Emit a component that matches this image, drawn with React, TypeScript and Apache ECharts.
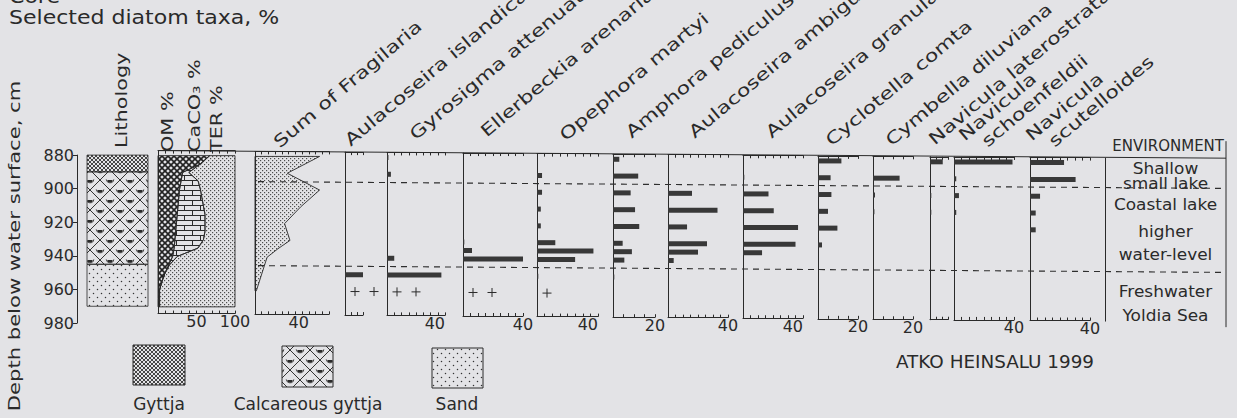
import React, { useEffect, useRef } from 'react';
import * as echarts from 'echarts';

// ---------------- data ----------------
const titleLines = ['Core', 'Selected diatom taxa, %'];
const depthAxisTitle = 'Depth below water surface, cm';
const credit = 'ATKO HEINSALU 1999';

const lithologyNames = ['Gyttja', 'Calcareous gyttja', 'Sand'];
const lithologyTop = [880, 890, 945];
const lithologyBase = [890, 945, 970];

const geoLabels = ['OM %', 'CaCO\u2083 %', 'TER %'];
const geoDepths = [880, 885, 890, 895, 900, 905, 910, 915, 920, 925, 930, 935, 940, 945, 950, 955, 960, 965, 970];
const omPct = [67, 55, 32, 30, 28, 27, 26, 25, 24, 23, 22, 21, 19, 14, 9, 5, 2, 2, 2];
const caco3Pct = [0, 0, 8, 22, 27, 30, 33, 36, 37, 38, 37, 31, 6, 1, 0, 0, 0, 0, 0];
const terPct = [33, 45, 60, 48, 45, 43, 41, 39, 39, 39, 41, 48, 75, 85, 91, 95, 98, 98, 98];

const taxaNames = [
  'Sum of Fragilaria', 'Aulacoseira islandica', 'Gyrosigma attenuatum', 'Ellerbeckia arenaria',
  'Opephora martyi', 'Amphora pediculus', 'Aulacoseira ambigua', 'Aulacoseira granulata',
  'Cyclotella comta', 'Cymbella diluviana', 'Navicula laterostrata', 'Navicula schoenfeldii',
  'Navicula scutelloides',
];
const sampleDepths = [880, 890, 900, 910, 920, 930, 935, 940, 950, 960];
const sumFragilaria = [48, 24, 48, 34, 22, 26, 17, 9, 5, 1];
const aulIslandica = [0, 0, 0, 0, 0, 0, 0, 0, 12, 0];
const gyrAttenuatum = [1, 2.7, 0, 0, 0, 0, 0, 5, 37.5, 0];
const ellArenaria = [0, 0, 0, 0, 0, 0.5, 6, 40, 0, 0];
const opeMartyi = [0, 3.3, 3.3, 2.5, 2.5, 12, 37, 25, 0.7, 0];
const ampPediculus = [3, 12, 8.4, 10.5, 12.5, 4.6, 9, 5.4, 0.6, 0];
const aulAmbigua = [0, 0, 16, 33, 12.7, 26, 20, 3.8, 0, 0];
const aulGranulata = [0, 0.5, 17, 20.5, 36.7, 35, 12.7, 0, 0, 0];
const cycComta = [11.7, 6.3, 6.7, 5, 9.7, 2, 0, 0, 0, 0];
const cymDiluviana = [0, 13.3, 1, 0.7, 0, 0, 0, 0, 0, 0];
const navLaterostrata = [8.5, 0, 0.7, 0.7, 0, 0, 0, 0, 0, 0];
const navSchoenfeldii = [39, 1.5, 3.3, 1.5, 0, 0, 0, 0, 0, 0];
const navScutelloides = [22.7, 30.4, 6.7, 3.8, 3.8, 0, 0, 0, 0, 0];
const barTaxa = [null, aulIslandica, gyrAttenuatum, ellArenaria, opeMartyi, ampPediculus, aulAmbigua,
  aulGranulata, cycComta, cymDiluviana, navLaterostrata, navSchoenfeldii, navScutelloides];
// number of "+" (rare) marks at the rare depth per taxon
const rareDepth = 960;
const rareCount = [0, 2, 2, 2, 1, 0, 0, 0, 0, 0, 0, 0, 0];

const zoneBounds = [895, 945];
const envTitle = 'ENVIRONMENT';
const envLines = ['Shallow', 'small lake', 'Coastal lake', 'higher', 'water-level', 'Freshwater', 'Yoldia Sea'];
const envDepths = [883.5, 892, 904.5, 921, 934.5, 956.5, 971];

// ---------------- layout ----------------
const FONT = '"DejaVu Sans", "Liberation Sans", sans-serif';
const INK = '#2a2a2a';
const BG = '#e3e3e6';
const BAR = '#383838';
const PX = 1.68;
const Y880 = 155;
const TILT = 0.008;
const yAt = (d: number, x: number) => Y880 + (d - 880) * PX + (x - 77) * TILT;
const TOP_D = 877;
const BOT_D = 974;

const panelLeft = [255, 345, 387, 463, 537, 613, 668, 743, 818, 873, 930, 954, 1030];
const panelWidth = [74, 18, 58, 60, 61, 42, 60, 60, 40, 40, 18, 60, 60];
const panelMax = [55, 12, 40, 40, 40, 20, 40, 40, 20, 20, 12, 40, 40];
const panelStep = [5, 4, 5, 5, 5, 5, 5, 5, 5, 5, 4, 5, 5];
const panelLabel = [40, 0, 40, 40, 40, 20, 40, 40, 20, 20, 0, 40, 40];
const panelAlign = ['right', 'center', 'right', 'center', 'right', 'center', 'center', 'right', 'center', 'center', 'center', 'center', 'center'];
// baseline start of rotated names: [x, y, secondLineX, secondLineY]
const nameAnchor: number[][] = [
  [280, 149], [351, 147], [416, 141], [487, 138], [566, 142], [632, 139], [695, 139],
  [772, 139], [832, 147], [892, 147], [935, 146], [965, 142, 988, 148], [1032, 142, 1055, 148],
];
const plusOffsets = [10, 29];

function mk(w: number, h: number, draw: (c: CanvasRenderingContext2D) => void) {
  const cv = document.createElement('canvas');
  cv.width = w;
  cv.height = h;
  const ctx = cv.getContext('2d') as CanvasRenderingContext2D;
  draw(ctx);
  return { image: cv, repeat: 'repeat', imageWidth: w, imageHeight: h };
}
function diag(c: CanvasRenderingContext2D, s: number, lw: number, col: string) {
  c.strokeStyle = col;
  c.lineWidth = lw;
  for (let k = -1; k <= 1; k++) {
    c.beginPath(); c.moveTo(k * s - 1, -1); c.lineTo(k * s + s + 1, s + 1); c.stroke();
    c.beginPath(); c.moveTo(k * s + s + 1, -1); c.lineTo(k * s - 1, s + 1); c.stroke();
  }
}

export default function App() {
  const ref = useRef<HTMLDivElement>(null);
  useEffect(() => {
    if (!ref.current) return;
    const chart = echarts.init(ref.current, null, { renderer: 'svg' });

    const pDots = mk(4, 4, (c) => { c.fillStyle = '#4d4d4d'; c.fillRect(0, 0, 1.2, 1.2); c.fillRect(2, 2, 1.2, 1.2); });
    const pWoven = mk(6, 6, (c) => diag(c, 6, 1.6, '#222'));
    const pBrick = mk(16, 10, (c) => {
      c.strokeStyle = '#2a2a2a'; c.lineWidth = 1;
      c.beginPath(); c.moveTo(0, 0.5); c.lineTo(16, 0.5); c.moveTo(0, 5.5); c.lineTo(16, 5.5);
      c.moveTo(0.5, 0); c.lineTo(0.5, 5.5); c.moveTo(8.5, 5.5); c.lineTo(8.5, 10); c.stroke();
    });
    const pGyttja = mk(4, 4, (c) => diag(c, 4, 0.9, '#333'));
    const pCalc = mk(20, 20, (c) => {
      diag(c, 20, 1, '#333');
      const cup = (x: number, y: number) => {
        c.fillStyle = '#2a2a2a';
        c.beginPath(); c.arc(x, y, 2.6, 0, Math.PI); c.fill();
        c.strokeStyle = '#333'; c.lineWidth = 0.9;
        c.beginPath(); c.arc(x, y - 1, 3.8, 0.1, Math.PI - 0.1); c.stroke();
      };
      [[10, 0], [10, 20], [0, 10], [20, 10]].forEach(([x, y]) => cup(x, y));
    });
    const pSand = mk(8, 8, (c) => {
      c.fillStyle = '#333';
      c.beginPath(); c.arc(1.5, 1.5, 0.75, 0, Math.PI * 2); c.fill();
      c.beginPath(); c.arc(5.5, 5.5, 0.75, 0, Math.PI * 2); c.fill();
    });
    const lithoPatterns = [pGyttja, pCalc, pSand];

    const LS = { color: INK, width: 1 };
    const grids: any[] = [];
    const xAxes: any[] = [];
    const yAxes: any[] = [];
    const series: any[] = [];

    // lithology + depth axis
    grids.push({ left: 87, top: yAt(880, 87), width: 61, height: 100 * PX });
    xAxes.push({ gridIndex: 0, type: 'value', min: 0, max: 1, show: false });
    yAxes.push({
      gridIndex: 0, type: 'value', inverse: true, min: 880, max: 980, interval: 20, offset: 10,
      axisLine: { show: true, onZero: false, lineStyle: LS },
      axisTick: { show: true, length: 4, lineStyle: LS },
      axisLabel: { fontSize: 16, fontFamily: FONT, color: INK, margin: 3 },
      splitLine: { show: false },
    });
    series.push({
      type: 'custom', xAxisIndex: 0, yAxisIndex: 0, silent: true,
      data: lithologyTop.map((t, i) => [i, t, lithologyBase[i]]),
      encode: { x: 0, y: 1 },
      renderItem: (params: any, api: any) => {
        const i = params.dataIndex;
        const a = api.coord([0, lithologyTop[i]]);
        const b = api.coord([1, lithologyBase[i]]);
        return {
          type: 'rect', shape: { x: a[0], y: a[1], width: b[0] - a[0], height: b[1] - a[1] },
          style: { fill: lithoPatterns[i], stroke: INK, lineWidth: 0.8 },
        };
      },
    });

    const addPanel = (left: number, width: number, max: number, step: number, labels: number[], align: string) => {
      const gi = grids.length;
      grids.push({ left, width, top: yAt(TOP_D, left), height: (BOT_D - TOP_D) * PX });
      const xi = xAxes.length;
      const common = { gridIndex: gi, type: 'value', min: 0, max, interval: step, splitLine: { show: false } };
      xAxes.push({
        ...common, position: 'bottom',
        axisLine: { show: true, onZero: false, lineStyle: LS },
        axisTick: { show: true, inside: true, length: 3, lineStyle: LS },
        axisLabel: {
          show: labels.length > 0, formatter: (v: number) => (labels.indexOf(v) >= 0 ? String(v) : ''),
          fontSize: 16, fontFamily: FONT, color: INK, margin: 0, align,
        },
      });
      xAxes.push({
        ...common, position: 'top',
        axisLine: { show: true, onZero: false, lineStyle: LS },
        axisTick: { show: true, inside: true, length: 3, lineStyle: LS },
        axisLabel: { show: false },
      });
      const yi = yAxes.length;
      yAxes.push({
        gridIndex: gi, type: 'value', inverse: true, min: TOP_D, max: BOT_D,
        axisLine: { show: true, onZero: false, lineStyle: LS },
        axisTick: { show: false }, axisLabel: { show: false }, splitLine: { show: false },
      });
      return { gi, xi, yi };
    };

    const areaSeries = (xi: number, yi: number, depths: number[], left: number[] | null, right: number[], fill: any) => ({
      type: 'custom', xAxisIndex: xi, yAxisIndex: yi, silent: true, z: 2,
      data: depths.map((d, i) => [right[i], d]),
      encode: { x: 0, y: 1 },
      renderItem: (params: any, api: any) => {
        if (params.dataIndex !== 0) return null;
        const pts: number[][] = [];
        depths.forEach((d, i) => pts.push(api.coord([right[i], d])));
        for (let i = depths.length - 1; i >= 0; i--) pts.push(api.coord([left ? left[i] : 0, depths[i]]));
        return { type: 'polygon', shape: { points: pts }, style: { fill, stroke: INK, lineWidth: 0.9 } };
      },
    });

    // OM / CaCO3 / TER column
    const om = addPanel(158, 77, 100, 10, [50, 100], 'center');
    const omTop = omPct.map((v, i) => v + caco3Pct[i]);
    series.push(areaSeries(om.xi, om.yi, geoDepths, null, omPct, pWoven));
    series.push(areaSeries(om.xi, om.yi, geoDepths, omPct, omTop, pBrick));
    series.push(areaSeries(om.xi, om.yi, geoDepths, omTop, omTop.map((v, i) => v + terPct[i]), pDots));

    // taxa
    const panels: any[] = [];
    taxaNames.forEach((name, i) => {
      const p = addPanel(panelLeft[i], panelWidth[i], panelMax[i], panelStep[i], panelLabel[i] ? [panelLabel[i]] : [], panelAlign[i]);
      panels.push(p);
      if (i === 0) {
        series.push(areaSeries(p.xi, p.yi, sampleDepths, null, sumFragilaria, pDots));
        return;
      }
      const vals = barTaxa[i] as number[];
      series.push({
        type: 'custom', name, xAxisIndex: p.xi, yAxisIndex: p.yi, silent: true, z: 3,
        data: vals.map((v, k) => [v, sampleDepths[k]]).filter((d) => d[0] > 0),
        encode: { x: 0, y: 1 },
        renderItem: (params: any, api: any) => {
          const v = api.value(0);
          const d = api.value(1);
          const a = api.coord([0, d]);
          const b = api.coord([v, d]);
          return {
            type: 'rect', shape: { x: a[0], y: a[1] - 2.5, width: Math.max(b[0] - a[0], 1.3), height: 5 },
            style: { fill: BAR },
          };
        },
      });
      if (rareCount[i] > 0) {
        series.push({
          type: 'custom', xAxisIndex: p.xi, yAxisIndex: p.yi, silent: true, z: 3,
          data: plusOffsets.slice(0, rareCount[i]).map((_, k) => [k, rareDepth]),
          encode: { x: 0, y: 1 },
          renderItem: (params: any, api: any) => {
            const c = api.coord([0, api.value(1)]);
            const x = c[0] + plusOffsets[params.dataIndex];
            const y = c[1];
            return {
              type: 'group', children: [
                { type: 'line', shape: { x1: x - 4.5, y1: y, x2: x + 4.5, y2: y }, style: { stroke: INK, lineWidth: 1 } },
                { type: 'line', shape: { x1: x, y1: y - 4.5, x2: x, y2: y + 4.5 }, style: { stroke: INK, lineWidth: 1 } },
              ],
            };
          },
        });
      }
    });

    // environment column
    const envGi = grids.length;
    grids.push({ left: 1105, width: 121, top: yAt(TOP_D, 1105), height: (BOT_D - TOP_D) * PX });
    const envXi = xAxes.length;
    xAxes.push({ gridIndex: envGi, type: 'value', min: 0, max: 1, show: false });
    const envYi = yAxes.length;
    yAxes.push({
      gridIndex: envGi, type: 'value', inverse: true, min: TOP_D, max: BOT_D,
      axisLine: { show: true, onZero: false, lineStyle: LS },
      axisTick: { show: false }, axisLabel: { show: false }, splitLine: { show: false },
    });
    series.push({
      type: 'custom', xAxisIndex: envXi, yAxisIndex: envYi, silent: true, z: 4,
      data: envDepths.map((d) => [0.5, d]),
      encode: { x: 0, y: 1 },
      renderItem: (params: any, api: any) => {
        const c = api.coord([0.5, api.value(1)]);
        return {
          type: 'text', x: c[0], y: c[1], scaleX: 1.06,
          style: {
            text: envLines[params.dataIndex], font: `16px ${FONT}`, fill: INK,
            textAlign: 'center', textVerticalAlign: 'middle', align: 'center', verticalAlign: 'middle',
          },
        };
      },
    });

    chart.setOption({
      animation: false,
      backgroundColor: BG,
      grid: grids,
      xAxis: xAxes,
      yAxis: yAxes,
      series,
    });

    // ---------- graphic (texts, frame lines) ----------
    const T = (text: string, x: number, y: number, fs: number, o: any = {}) => ({
      type: 'text', x, y, rotation: o.rot || 0, scaleX: o.sx || 1, silent: true, z: 10,
      style: {
        text, font: `${fs}px ${FONT}`, fill: INK,
        textAlign: o.align || 'left', textVerticalAlign: 'middle', align: o.align || 'left', verticalAlign: 'middle',
      },
    });
    const px = (gi: number, x: number, y: number) => chart.convertToPixel({ gridIndex: gi } as any, [x, y]) as unknown as number[];
    const els: any[] = [];
    els.push(T(titleLines[0], 9, -3, 19, { sx: 1.16 }));
    els.push(T(titleLines[1], 9, 18, 19, { sx: 1.16 }));
    els.push(T(depthAxisTitle, 14, 246, 16, { rot: Math.PI / 2, sx: 1.32, align: 'center' }));
    els.push(T('Lithology', 121, 148, 16, { rot: Math.PI / 2, sx: 1.3 }));
    const geoX = [167, 194, 216];
    geoLabels.forEach((g, i) => els.push(T(g, geoX[i], 152, 16, { rot: Math.PI / 2, sx: 1.3 })));

    const ANG = (40 * Math.PI) / 180;
    const shift = 0.35 * 17;
    const ox = -Math.sin(ANG) * shift;
    const oy = -Math.cos(ANG) * shift;
    taxaNames.forEach((name, i) => {
      const a = nameAnchor[i];
      if (a.length > 2) {
        const sp = name.indexOf(' ');
        els.push(T(name.slice(0, sp), a[0] + ox, a[1] + oy, 17, { rot: ANG, sx: 1.3 }));
        els.push(T(name.slice(sp + 1), a[2] + ox, a[3] + oy, 17, { rot: ANG, sx: 1.3 }));
      } else {
        els.push(T(name, a[0] + ox, a[1] + oy, 17, { rot: ANG, sx: 1.3 }));
      }
    });

    // legend
    const legBox = [[133, 345, 52, 40], [282, 346, 51, 41], [432, 348, 51, 40]];
    const legLabelX = [159, 308, 457];
    lithologyNames.forEach((n, i) => {
      const b = legBox[i];
      els.push({
        type: 'rect', silent: true, z: 5, shape: { x: b[0], y: b[1], width: b[2], height: b[3] },
        style: { fill: lithoPatterns[i], stroke: INK, lineWidth: 1 },
      });
      els.push(T(n, legLabelX[i], 404, 17, { align: 'center' }));
    });
    els.push(T(credit, 995, 362, 17, { align: 'center', sx: 1.08 }));

    // frame lines through the grids' scales
    const topA = px(om.gi, 0, TOP_D);
    const topB = px(envGi, 1, TOP_D);
    els.push({ type: 'line', silent: true, z: 4, shape: { x1: topA[0], y1: topA[1], x2: topB[0], y2: topB[1] }, style: { stroke: INK, lineWidth: 1 } });
    zoneBounds.forEach((z) => {
      const a = px(panels[0].gi, 0, z);
      const b = px(envGi, 1, z);
      els.push({
        type: 'line', silent: true, z: 1, shape: { x1: a[0] + 3, y1: a[1], x2: b[0], y2: b[1] },
        style: { stroke: '#2e2e2e', lineWidth: 1.1, lineDash: [6, 5] },
      });
    });
    const botB = px(envGi, 1, BOT_D);
    els.push({ type: 'line', silent: true, z: 4, shape: { x1: topB[0], y1: topB[1] - 17, x2: botB[0], y2: botB[1] + 6 }, style: { stroke: INK, lineWidth: 1 } });
    els.push(T(envTitle, topB[0] - 2, topB[1] - 12, 15, { align: 'right' }));

    chart.setOption({ graphic: { elements: els } });

    return () => chart.dispose();
  }, []);
  return <div ref={ref} style={{ position: 'fixed', left: 0, top: 0, width: 1237, height: 418, background: BG }} />;
}
